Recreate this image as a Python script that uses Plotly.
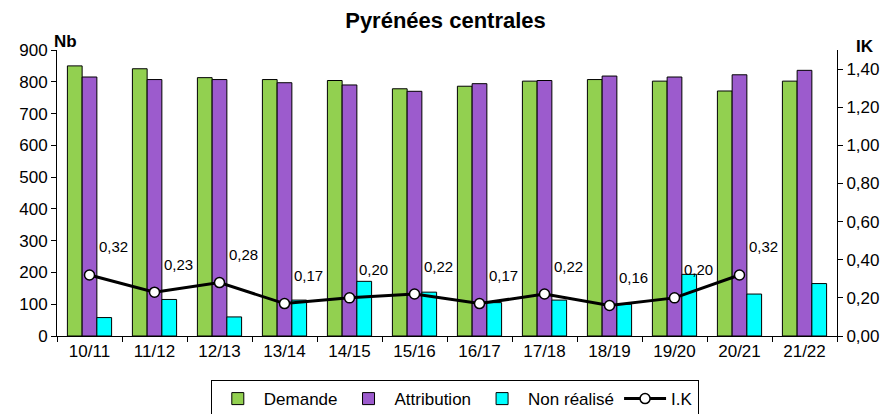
import plotly.graph_objects as go

# saisons
saisons = ['10/11', '11/12', '12/13', '13/14', '14/15', '15/16', '16/17',
           '17/18', '18/19', '19/20', '20/21', '21/22']
demande = [850, 841, 813, 807, 804, 778, 786, 802, 807, 802, 771, 802]
attribution = [815, 807, 807, 797, 790, 770, 794, 804, 818, 815, 822, 836]
non_realise = [58, 115, 60, 113, 172, 138, 105, 113, 100, 194, 132, 165]
ik = [0.32, 0.23, 0.28, 0.17, 0.20, 0.22, 0.17, 0.22, 0.16, 0.20, 0.32]

font = 'Liberation Sans, Arial, sans-serif'
fig = go.Figure()

bar_line = dict(color='black', width=1)
fig.add_trace(go.Bar(x=saisons, y=demande, name='Demande',
                     marker=dict(color='#92D050', line=bar_line)))
fig.add_trace(go.Bar(x=saisons, y=attribution, name='Attribution',
                     marker=dict(color='#9C5BCD', line=bar_line)))
fig.add_trace(go.Bar(x=saisons, y=non_realise, name='Non réalisé',
                     marker=dict(color='#00FFFF', line=bar_line)))

# indice IK sur l'axe de droite
fig.add_trace(go.Scatter(x=saisons[:len(ik)], y=ik, name='I.K', yaxis='y2',
                         mode='lines+markers',
                         line=dict(color='black', width=3),
                         marker=dict(size=10, color='white',
                                     line=dict(color='black', width=1.5))))

for s, v in zip(saisons, ik):
    fig.add_annotation(x=s, y=v, yref='y2', text=f'{v:.2f}'.replace('.', ','),
                       showarrow=False, xshift=24, yshift=28,
                       font=dict(size=15, color='black', family=font))

fig.add_annotation(text='<b>Nb</b>', xref='paper', yref='paper', x=-0.006, y=1.07,
                   showarrow=False, font=dict(size=17, color='black', family=font))
fig.add_annotation(text='<b>IK</b>', xref='paper', yref='paper', x=1.05, y=1.052,
                   showarrow=False, font=dict(size=17, color='black', family=font))

fig.update_layout(
    width=891, height=414,
    margin=dict(l=57, r=54, t=50, b=78),
    plot_bgcolor='white', paper_bgcolor='white',
    separators=', ',
    font=dict(family=font, size=17, color='black'),
    title=dict(text='<b>Pyrénées centrales</b>', x=0.5, xanchor='center',
               yref='container', y=0.95, yanchor='middle',
               font=dict(size=22, family=font)),
    barmode='group', bargap=0.32, bargroupgap=0,
    xaxis=dict(range=[-0.5, len(saisons) - 0.5], showline=True,
               linecolor='black', ticks='outside',
               tickson='boundaries', ticklen=5, tickcolor='black',
               automargin=False, tickfont=dict(size=17)),
    yaxis=dict(range=[0, 900], dtick=100, showgrid=False, showline=True,
               linecolor='black', ticks='outside', ticklen=5,
               tickcolor='black', zeroline=False, automargin=False,
               tickfont=dict(size=17)),
    yaxis2=dict(range=[0, 1.5], tickvals=[0, 0.2, 0.4, 0.6, 0.8, 1.0, 1.2, 1.4],
                tickformat='.2f', overlaying='y', side='right',
                showgrid=False, showline=True, linecolor='black',
                ticks='outside', ticklen=5, tickcolor='black',
                zeroline=False, automargin=False, tickfont=dict(size=17)),
    legend=dict(orientation='h', x=0.51, xanchor='center',
                yref='container', y=0.082, yanchor='top',
                bordercolor='black', borderwidth=1, itemwidth=42,
                font=dict(size=17), traceorder='normal'),
)

# pas de marge autour du graphique dans la page
fig.write_html('out.html', config={'displayModeBar': False},
               post_script="document.body.style.margin='0';")
